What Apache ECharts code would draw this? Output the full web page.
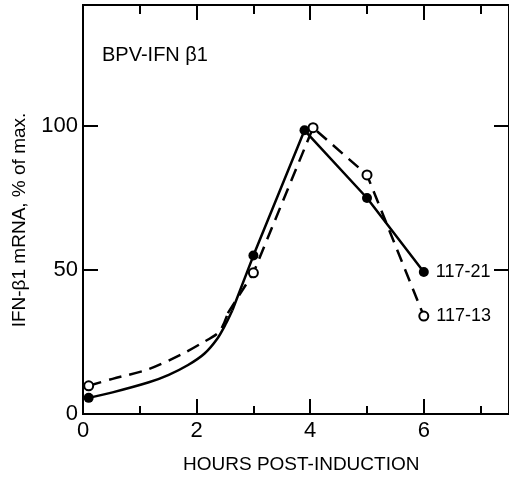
<!DOCTYPE html>
<html><head><meta charset="utf-8">
<script src="https://cdn.jsdelivr.net/npm/echarts@6/dist/echarts.min.js"></script>
<style>html,body{margin:0;padding:0;background:#fff}#c{width:509px;height:479px}</style>
</head><body><div id="c"></div>
<script>
// Measured points
const hours21 = [0.1, 3, 3.9, 5, 6];
const values21 = [5.6, 55, 98.5, 75, 49.3];
const hours13 = [0.1, 3, 4.05, 5, 6];
const values13 = [9.8, 49, 99.4, 83, 34];
// Hand-drawn curve segments
const curve21Hours = [0.1, 0.52, 1.16, 1.51, 1.85, 2.14, 2.37, 2.52, 2.63];
const curve21Values = [5.6, 7.5, 11.0, 13.6, 17, 21, 26.3, 31.5, 36];
const curve13Hours = [0.1, 0.52, 1.16, 1.74, 2.08, 2.40, 2.55];
const curve13Values = [9.8, 12.2, 15.6, 20.8, 24.5, 28.6, 35];
const xMajorTicks = [2, 4, 6];
const xMinorTicks = [1, 3, 5, 7];
const xLabels = [0, 2, 4, 6];
const yTicks = [50, 100];
const yLabels = [0, 50, 100];
const seriesNames = ['117-21', '117-13'];

const zip = (a, b) => a.map((v, i) => [v, b[i]]);
const FONT = 'Liberation Sans';
const lineW = 2.5;

const straight21 = [[curve21Hours[curve21Hours.length-1], curve21Values[curve21Values.length-1]]].concat(zip(hours21, values21).slice(1));
const straight13 = [[curve13Hours[curve13Hours.length-1], curve13Values[curve13Values.length-1]]].concat(zip(hours13, values13).slice(1));

function xAx(pos, ticks, len, labels) {
  return {
    type: 'value', position: pos, min: 0, max: 7.5, gridIndex: 0,
    axisLine: { show: true, onZero: false, lineStyle: { color: '#000', width: 2 } },
    axisTick: { show: true, inside: true, length: len, customValues: ticks, lineStyle: { color: '#000', width: 2 } },
    axisLabel: labels ? { show: true, customValues: labels, color: '#000', fontFamily: FONT, fontSize: 22, margin: 6 } : { show: false },
    splitLine: { show: false }
  };
}
function yAx(pos, labels) {
  return {
    type: 'value', position: pos, min: 0, max: 142,
    axisLine: { show: true, onZero: false, lineStyle: { color: '#000', width: 2 } },
    axisTick: { show: true, inside: true, length: 15, customValues: yTicks, lineStyle: { color: '#000', width: 2 } },
    axisLabel: labels ? { show: true, customValues: labels, color: '#000', fontFamily: FONT, fontSize: 22, margin: 5 } : { show: false },
    splitLine: { show: false }
  };
}
const endLabel = (name) => ({ show: true, position: 'right', distance: 7, formatter: name, color: '#000', fontFamily: FONT, fontSize: 18 });

const chart = echarts.init(document.getElementById('c'), null, { renderer: 'canvas' });
chart.setOption({
  animation: false,
  backgroundColor: '#fff',
  grid: { left: 83, top: 5, width: 432, height: 409 },
  xAxis: [
    xAx('bottom', xMajorTicks, 15, xLabels),
    xAx('bottom', xMinorTicks, 8, null),
    xAx('top', xMajorTicks, 15, null),
    xAx('top', xMinorTicks, 9, null)
  ],
  yAxis: [yAx('left', yLabels), yAx('right', null)],
  graphic: [
    { type: 'text', left: 183, top: 455, style: { text: 'HOURS POST-INDUCTION', font: '19px "' + FONT + '"', fill: '#000' } },
    { type: 'text', x: 20, y: 220, rotation: Math.PI / 2, style: { text: 'IFN-β1 mRNA, % of max.', font: '19px "' + FONT + '"', fill: '#000', align: 'center', verticalAlign: 'middle' } },
    { type: 'text', left: 102, top: 45, style: { text: 'BPV-IFN β1', font: '20px "' + FONT + '"', fill: '#000' } }
  ],
  series: [
    { type: 'line', smooth: 0.3, data: zip(curve21Hours, curve21Values), showSymbol: false, symbol: 'none',
      lineStyle: { color: '#000', width: lineW } },
    { type: 'line', data: straight21, showSymbol: false, symbol: 'none',
      lineStyle: { color: '#000', width: lineW } },
    { type: 'line', smooth: 0.3, data: zip(curve13Hours, curve13Values), showSymbol: false, symbol: 'none',
      lineStyle: { color: '#000', width: lineW, type: [13, 8] } },
    { type: 'line', data: straight13, showSymbol: false, symbol: 'none',
      lineStyle: { color: '#000', width: lineW, type: [13, 8] } },
    { type: 'scatter', name: seriesNames[0], symbol: 'circle', symbolSize: 10, z: 5,
      itemStyle: { color: '#000', opacity: 1 },
      data: zip(hours21, values21).map((p, i, a) => i === a.length - 1 ? { value: p, label: endLabel(seriesNames[0]) } : p) },
    { type: 'scatter', name: seriesNames[1], symbol: 'circle', symbolSize: 9, z: 5,
      itemStyle: { color: '#fff', borderColor: '#000', borderWidth: 2, opacity: 1 },
      data: zip(hours13, values13).map((p, i, a) => i === a.length - 1 ? { value: p, label: endLabel(seriesNames[1]) } : p) }
  ]
});
</script></body></html>
